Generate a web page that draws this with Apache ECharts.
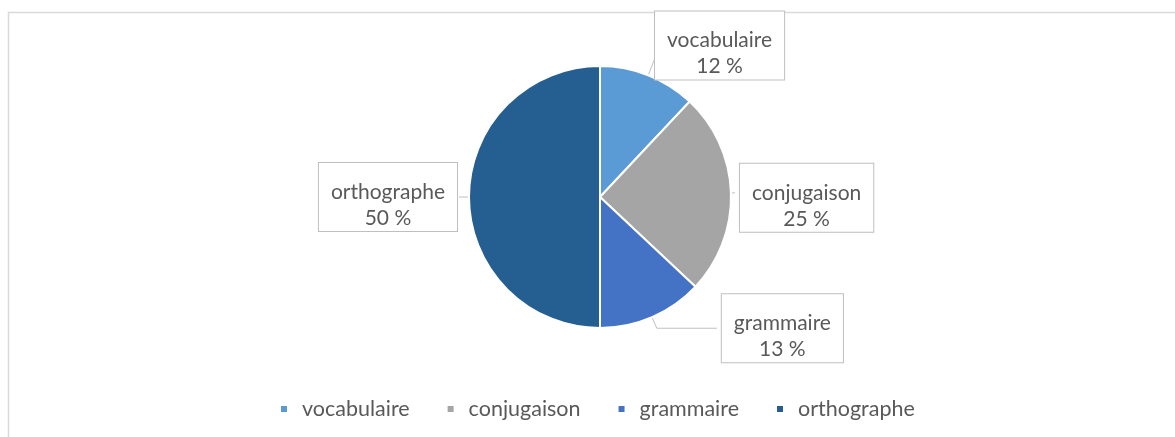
<!DOCTYPE html>
<html>
<head>
<meta charset="utf-8">
<script src="https://cdn.jsdelivr.net/npm/echarts@6/dist/echarts.min.js"></script>
<style>
  html, body { margin: 0; padding: 0; background: #fff; }
  #main { width: 1175px; height: 437px; }
</style>
</head>
<body>
<div id="main"></div>
<script>
// parts of the pie
var categories = ['vocabulaire', 'conjugaison', 'grammaire', 'orthographe'];
var values = [12, 25, 13, 50];
var colors = ['#5B9BD5', '#A5A5A5', '#4472C4', '#255E91'];

// callout leader lengths [length, length2] and small nudges, same order as categories
var leaderLen = [[32, 0], [2, 2], [12, 60], [5, 5]];
var labelShift = [[-10, 0], [0, 5], [0, 0], [3, 0]];

var pieData = categories.map(function (name, i) {
    return {
        name: name,
        value: values[i],
        itemStyle: { color: colors[i] },
        labelLine: { length: leaderLen[i][0], length2: leaderLen[i][1] }
    };
});

var myChart = echarts.init(document.getElementById('main'));
var option = {
    animation: false,
    textStyle: { fontFamily: 'Lato' },
    graphic: [{
        type: 'rect',
        shape: { x: 8.5, y: 12.5, width: 1200, height: 500 },
        style: { fill: 'none', stroke: '#d9d9d9', lineWidth: 1.5 },
        silent: true
    }],
    legend: {
        data: categories,
        bottom: 12,
        left: 274,
        itemWidth: 8,
        itemHeight: 8,
        itemGap: 36,
        icon: 'rect',
        textStyle: { color: '#595959', fontSize: 21.5, fontFamily: 'Lato', padding: [0, 0, 0, 9] }
    },
    series: [{
        type: 'pie',
        center: [600, 197],
        radius: 131,
        startAngle: 90,
        clockwise: true,
        data: pieData,
        itemStyle: { borderColor: '#fff', borderWidth: 2 },
        label: {
            show: true,
            position: 'outside',
            formatter: '{t|{b}}\n{t|{d} %}',
            backgroundColor: '#fff',
            borderColor: '#bfbfbf',
            borderWidth: 1,
            padding: [16, 12, 0, 12],
            rich: {
                t: { color: '#595959', fontSize: 21, lineHeight: 26, align: 'center', fontFamily: 'Lato' }
            }
        },
        labelLine: {
            show: true,
            lineStyle: { color: '#bfbfbf', width: 1 }
        },
        labelLayout: function (params) {
            var s = labelShift[params.dataIndex];
            return { dx: s[0], dy: s[1] };
        }
    }]
};
myChart.setOption(option);
</script>
</body>
</html>
